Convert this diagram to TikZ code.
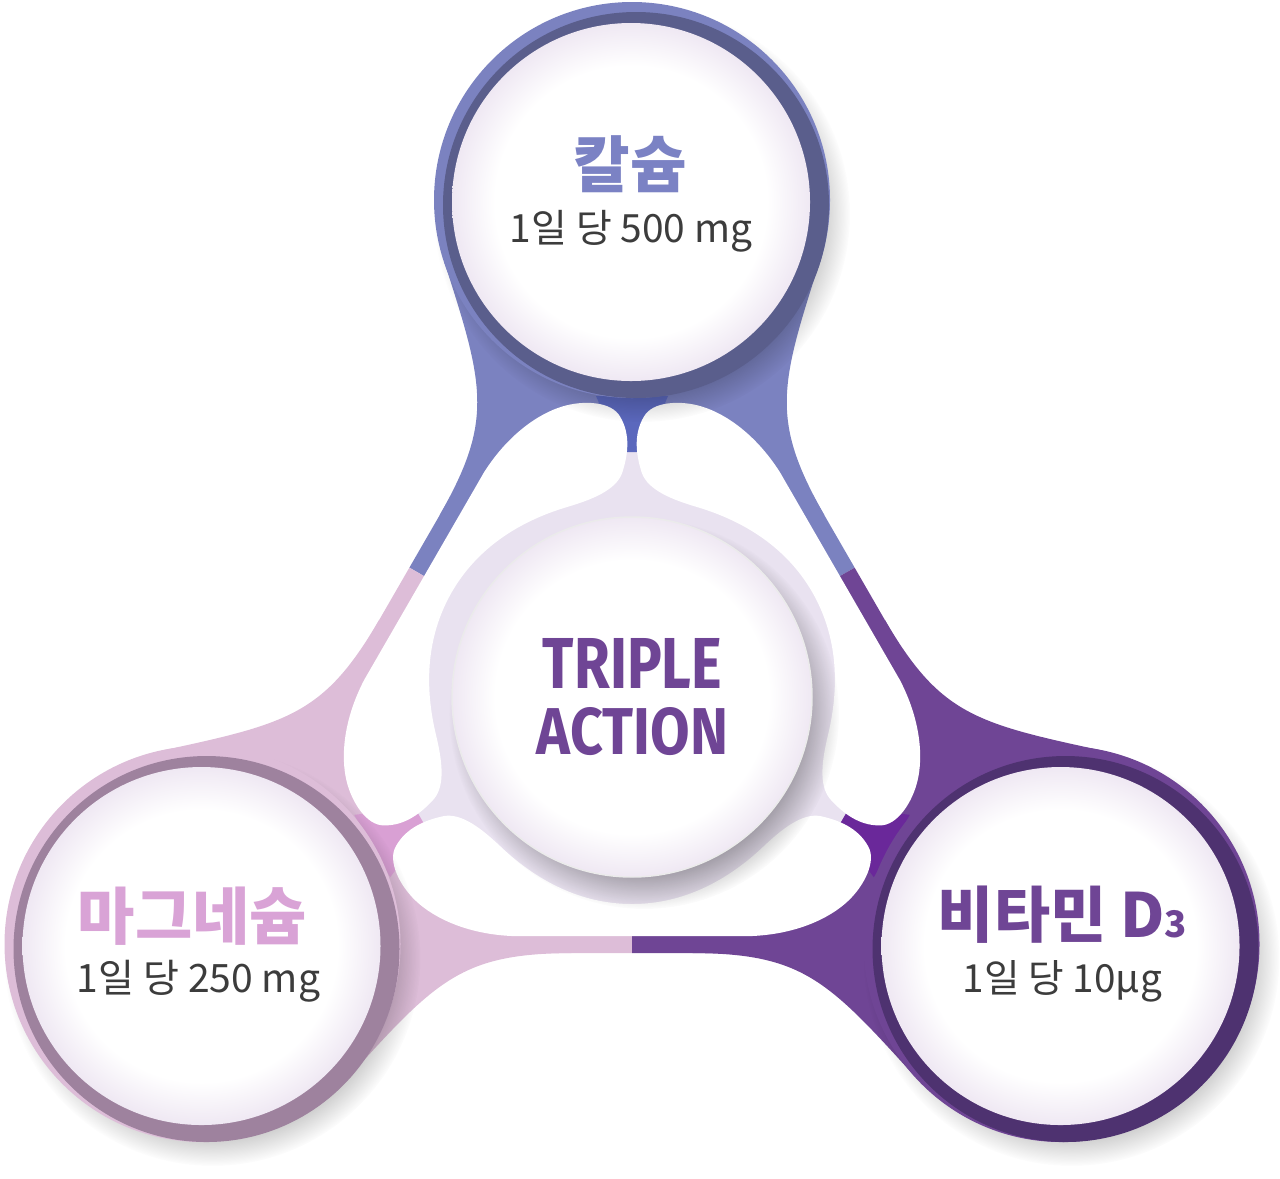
\documentclass[tikz,border=0pt]{standalone}
\usepackage{fontspec}
\usepackage{graphicx}
\newfontfamily\kr{Noto Sans CJK KR}
\newfontfamily\dinf{Fira Sans}
\usetikzlibrary{fadings}
\definecolor{bandT}{HTML}{7B82C0}
\definecolor{ringT}{HTML}{5A5E8C}
\definecolor{neckT}{HTML}{5B68BD}
\definecolor{bandL}{HTML}{DDBDD8}
\definecolor{ringL}{HTML}{9E829E}
\definecolor{neckL}{HTML}{D9A0D4}
\definecolor{bandR}{HTML}{6F4595}
\definecolor{ringR}{HTML}{4E3270}
\definecolor{neckR}{HTML}{6A289A}
\definecolor{lav}{HTML}{E9E2F0}
\definecolor{tint}{HTML}{EFE8F3}
\definecolor{dosec}{HTML}{3C3C3C}
\definecolor{txtT}{HTML}{7B82C4}
\definecolor{txtL}{HTML}{D9A3D6}
\definecolor{txtR}{HTML}{6F4595}
\pgfdeclareradialshading{whiteglow}{\pgfpointorigin}{color(0bp)=(white); color(19bp)=(white); color(25bp)=(tint); color(50bp)=(tint)}
\pgfdeclareradialshading{shadowshade}{\pgfpointorigin}{color(0bp)=(pgftransparent!0); color(18bp)=(pgftransparent!0); color(25bp)=(pgftransparent!100); color(50bp)=(pgftransparent!100)}
\pgfdeclarefading{softshadow}{\pgfuseshading{shadowshade}}
\newcommand\bandpieces[1]{%
  \fill[#1] (632,182) -- (186.9,953) -- (1077.1,953) -- cycle;
  \foreach \r in {90,210,330}{%
    \begin{scope}[shift={(632,696)},rotate=\r]
      \fill[#1] (435,-188) .. controls (311,-148) and (276,-138) .. (181,-192.3) -- (181,0) -- (435,0) -- cycle;
      \fill[#1] (435,188) .. controls (311,148) and (276,138) .. (181,192.3) -- (181,0) -- (435,0) -- cycle;
    \end{scope}}%
}
\tikzset{
  lbl/.style={inner sep=0pt},
  vshadow/.style={black,opacity=0.4,path fading=softshadow},
  glow/.style={shading=whiteglow}
}
\begin{document}
\begin{tikzpicture}[x=0.01cm,y=-0.01cm]
\useasboundingbox (0,0) rectangle (1280,1178);
% band, coloured by sector
\begin{scope}
  \clip (632,696) -- (-443,76) -- (-443,-1000) -- (1707,-1000) -- (1707,76) -- cycle;
  \bandpieces{bandT}
\end{scope}
\begin{scope}
  \clip (632,696) -- (-443,76) -- (-443,2000) -- (632,2000) -- cycle;
  \bandpieces{bandL}
\end{scope}
\begin{scope}
  \clip (632,696) -- (632,2000) -- (1707,2000) -- (1707,76) -- cycle;
  \bandpieces{bandR}
\end{scope}
% lavender hub and spokes
\fill[lav] (632,696) circle (222);
\foreach \r/\c in {90/neckT,210/neckL,330/neckR}{
  \begin{scope}[shift={(632,696)},rotate=\r]
    \fill[lav] (0,-20) rectangle (250,20);
    \fill[\c] (244,-12) -- (300,-36) -- (300,36) -- (244,12) -- cycle;
  \end{scope}}
% white lobes
\foreach \r in {150,270,30}{
  \begin{scope}[shift={(632,696)},rotate=\r]
    \fill[white] (208,0) .. controls (208,45) and (190,90) .. (150,132)
      .. controls (133,150) and (117,170) .. (120,188)
      .. controls (124,207) and (132,226) .. (150,236)
      .. controls (165,245) and (190,232) .. (205,216)
      .. controls (222,198) and (238,165) .. (240,120)
      -- (240,-120)
      .. controls (238,-165) and (222,-198) .. (205,-216)
      .. controls (190,-232) and (165,-245) .. (150,-236)
      .. controls (132,-226) and (124,-207) .. (120,-188)
      .. controls (117,-170) and (133,-150) .. (150,-132)
      .. controls (190,-90) and (208,-45) .. (208,0) -- cycle;
  \end{scope}}
% vertex circles
\fill[vshadow] (642,214) circle (208);
\fill[vshadow] (212.5,958) circle (208);
\fill[vshadow] (1071.5,958) circle (208);
\fill[bandT] (632,200) circle (198);
\fill[ringT] (636,205) circle (193);
\shade[glow] (631,202) circle (179);
\fill[bandL] (202.5,944) circle (198);
\fill[ringL] (206.5,949) circle (193);
\shade[glow] (201.5,946) circle (179);
\fill[bandR] (1061.5,944) circle (198);
\fill[ringR] (1065.5,949) circle (193);
\shade[glow] (1060.5,946) circle (179);
% centre circle
\fill[black,opacity=0.45,path fading=softshadow] (644,714) circle (195);
\shade[glow] (632,697) circle (180);
\draw[color=black!8,line width=0.4pt] (632,697) circle (180);
% texts
\node[lbl,text=txtT] (caT) at (630.5,164) {\resizebox{1.13cm}{!}{\kr\bfseries 칼슘}};
\node[lbl,text=dosec] (caD) at (631,231) {\resizebox{2.42cm}{!}{\kr 1일 당 500 mg}};
\node[lbl,text=txtL] (mgT) at (192.5,916.5) {\resizebox{2.29cm}{!}{\kr\bfseries 마그네슘}};
\node[lbl,text=dosec] (mgD) at (198.5,981) {\resizebox{2.43cm}{!}{\kr 1일 당 250 mg}};
\node[lbl,text=txtR] (vdT) at (1062.5,915) {\resizebox{2.49cm}{!}{\kr\bfseries 비타민 D{\fontsize{6}{6}\selectfont 3}}};
\node[lbl,text=dosec] (vdD) at (1062.5,981) {\resizebox{1.99cm}{!}{\kr 1일 당 10µg}};
\node[lbl,text=txtR] (tri) at (632.5,663) {\resizebox{1.79cm}{0.50cm}{\dinf\bfseries TRIPLE}};
\node[lbl,text=txtR] (act) at (632.5,731.5) {\resizebox{1.91cm}{0.47cm}{\dinf\bfseries ACTION}};
\end{tikzpicture}
\end{document}
